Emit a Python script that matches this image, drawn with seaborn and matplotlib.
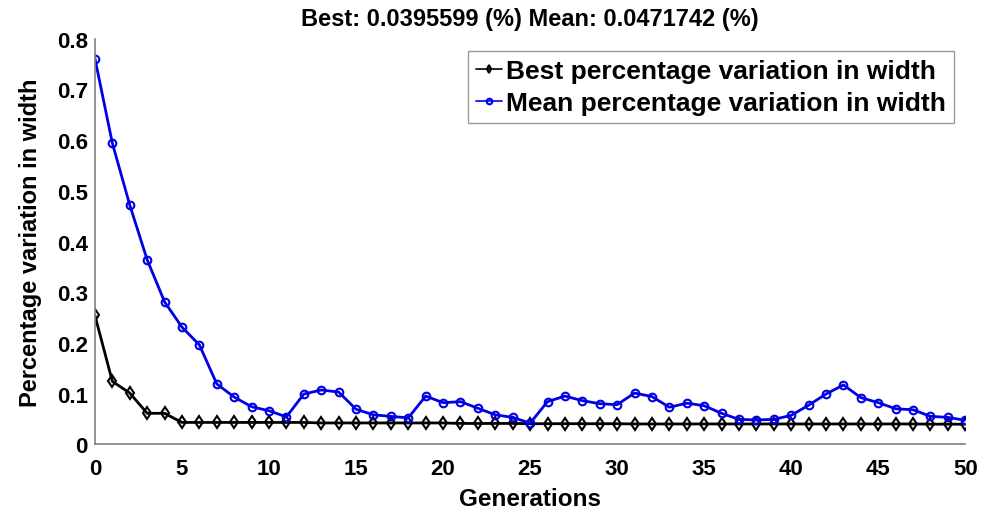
import numpy as np
import pandas as pd
import seaborn as sns
import matplotlib
matplotlib.use("Agg")
import matplotlib.pyplot as plt

generations = list(range(51))
best = [0.254, 0.124, 0.101, 0.061, 0.061, 0.043, 0.043, 0.043, 0.043, 0.043,
        0.043, 0.043, 0.043, 0.042, 0.042, 0.042, 0.042, 0.042, 0.042, 0.042,
        0.042, 0.041, 0.041, 0.041, 0.041, 0.0405, 0.0405, 0.0405, 0.0405, 0.0405,
        0.0405, 0.040, 0.040, 0.040, 0.040, 0.040, 0.040, 0.040, 0.040, 0.040,
        0.040, 0.040, 0.040, 0.040, 0.040, 0.040, 0.040, 0.040, 0.0396, 0.0396,
        0.0395599]
mean = [0.761, 0.594, 0.472, 0.364, 0.281, 0.231, 0.196, 0.119, 0.093, 0.074,
        0.066, 0.054, 0.099, 0.107, 0.103, 0.069, 0.058, 0.055, 0.052, 0.095,
        0.082, 0.084, 0.071, 0.058, 0.053, 0.0415, 0.084, 0.095, 0.086, 0.080,
        0.078, 0.101, 0.094, 0.073, 0.081, 0.076, 0.061, 0.049, 0.048, 0.049,
        0.057, 0.077, 0.099, 0.117, 0.092, 0.082, 0.070, 0.068, 0.055, 0.053,
        0.0471742]
xticks = list(range(0, 51, 5))
yticks = [0, 0.1, 0.2, 0.3, 0.4, 0.5, 0.6, 0.7, 0.8]
ytick_labels = ["0", "0.1", "0.2", "0.3", "0.4", "0.5", "0.6", "0.7", "0.8"]

sns.set_style("white")
plt.rcParams["font.family"] = ["Liberation Sans", "DejaVu Sans"]
plt.rcParams["font.weight"] = "bold"
plt.rcParams["text.color"] = "black"
plt.rcParams["axes.labelcolor"] = "black"

fig = plt.figure(figsize=(9.89, 5.10), dpi=100)
ax = fig.add_axes([0.096, 0.127, 0.880, 0.795])

df = pd.DataFrame({"Generations": generations, "Best": best, "Mean": mean})
sns.lineplot(data=df, x="Generations", y="Best", ax=ax, color="black", lw=2,
             marker="d", markersize=6.5, markerfacecolor="none", markeredgecolor="black",
             markeredgewidth=1.5, label="Best percentage variation in width")
sns.lineplot(data=df, x="Generations", y="Mean", ax=ax, color="#0000e6", lw=2,
             marker="o", markersize=5.5, markerfacecolor="none", markeredgecolor="#0000e6",
             markeredgewidth=1.5, label="Mean percentage variation in width")

ax.set_xlim(0, 50)
ax.set_ylim(0, 0.8)
ax.set_xticks(xticks)
ax.set_xticklabels([str(t) for t in xticks], fontsize=16, fontweight="bold")
ax.set_yticks(yticks)
ax.set_yticklabels(ytick_labels, fontsize=16, fontweight="bold")
ax.tick_params(direction="in", length=6, color="#808080", width=1,
               labelcolor="black")
ax.tick_params(axis="x", pad=10)
ax.tick_params(axis="y", pad=5)
for s in ["top", "right"]:
    ax.spines[s].set_visible(False)
for s in ["left", "bottom"]:
    ax.spines[s].set_color("#808080")
    ax.spines[s].set_linewidth(1.2)

ax.set_xlabel("Generations", fontsize=17.5, fontweight="bold", labelpad=6)
ax.set_ylabel("Percentage variation in width", fontsize=17, fontweight="bold", labelpad=11)
ax.set_title("Best: 0.0395599 (%) Mean: 0.0471742 (%)", fontsize=17,
             fontweight="bold", pad=10)

leg = ax.legend(loc="upper right", bbox_to_anchor=(0.987, 0.97),
                prop={"weight": "bold", "size": 19}, frameon=True, fancybox=False,
                handlelength=1.0, handletextpad=0.15, borderpad=0.3, labelspacing=0.3,
                borderaxespad=0)
leg.get_frame().set_edgecolor("#808080")
leg.get_frame().set_linewidth(1)
for h in leg.get_lines():
    h.set_markersize(4)
    h.set_linewidth(1.2)
for t in leg.get_texts():
    t.set_color("black")

fig.savefig("out.png", dpi=100)
